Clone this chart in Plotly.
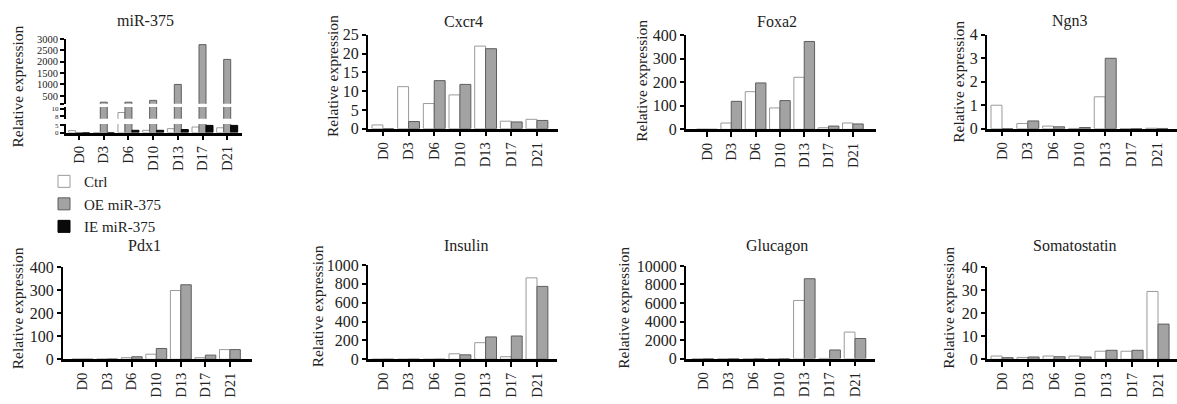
import plotly.graph_objects as go

W, H = 1177, 404
FONT = "Liberation Serif"

days = ["D0", "D3", "D6", "D10", "D13", "D17", "D21"]

# miR-375 (three groups, broken axis)
mir375_ctrl = [1.3, 0.0, 9.0, 1.5, 2.6, 3.7, 3.2]
mir375_oe = [0.0, 220, 220, 300, 1000, 2750, 2100]
mir375_ie = [0.0, 0.0, 1.5, 1.5, 2.0, 4.8, 4.8]

cxcr4_ctrl = [1.0, 11.2, 6.7, 9.0, 22.0, 2.0, 2.5]
cxcr4_oe = [0.0, 1.9, 12.8, 11.8, 21.3, 1.8, 2.2]

foxa2_ctrl = [1, 27, 160, 91, 221, 7, 27]
foxa2_oe = [0, 119, 197, 122, 373, 14, 23]

ngn3_ctrl = [1.0, 0.22, 0.11, 0.01, 1.36, 0.0, 0.02]
ngn3_oe = [0.0, 0.33, 0.08, 0.05, 3.0, 0.0, 0.01]

pdx1_ctrl = [1, 1, 7, 22, 299, 7, 42]
pdx1_oe = [0, 1, 11, 47, 324, 18, 42]

insulin_ctrl = [1, 0, 0, 58, 176, 27, 864]
insulin_oe = [0, 0, 0, 47, 237, 247, 773]

glucagon_ctrl = [1, 0, 0, 0, 6276, 20, 2862]
glucagon_oe = [0, 0, 0, 0, 8621, 931, 2172]

somatostatin_ctrl = [1.4, 0.8, 1.4, 1.4, 3.5, 3.5, 29.5]
somatostatin_oe = [0.7, 1.0, 1.1, 1.0, 3.9, 3.9, 15.3]

series_names = ["Ctrl", "OE miR-375", "IE miR-375"]

STY = {
    "Ctrl": dict(color="white", line=dict(color="#9a9a9a", width=1)),
    "OE miR-375": dict(color="#a3a3a3", line=dict(color="#5e5e5e", width=1)),
    "IE miR-375": dict(color="#0a0a0a", line=dict(color="#000000", width=1)),
}


def dx(a, b):
    return [a / W, b / W]


def dy(bottom, top):
    return [1 - bottom / H, 1 - top / H]


fig = go.Figure()
layout = {}
annotations = []

xbase = dict(type="category", categoryorder="array", categoryarray=days,
             showline=True, linecolor="black", linewidth=2.5, ticks="outside",
             ticklen=5, tickwidth=1.5, tickcolor="black", tickangle=-90,
             showgrid=False, zeroline=False, fixedrange=True,
             tickfont=dict(family=FONT, size=14.5, color="#222"))
ybase = dict(showline=True, linecolor="black", linewidth=2, ticks="outside",
             ticklen=4, tickwidth=1.5, tickcolor="black", showgrid=False,
             zeroline=False, fixedrange=True, tickformat="d",
             tickfont=dict(family=FONT, size=16, color="#222"))

# ---- panel 1: miR-375 with broken y axis ----
layout["xaxis"] = dict(xbase, domain=dx(66, 242), range=[-0.53, 6.6], anchor="y")
layout["yaxis"] = dict(ybase, domain=dy(130, 121), range=[0, 5.8], anchor="x",
                       tickvals=[0, 5], tickfont=dict(family=FONT, size=7, color="#222"))
layout["yaxis9"] = dict(ybase, domain=dy(115.7, 103.3), range=[7.4, 10.4], anchor="x",
                        tickvals=[8, 10], tickfont=dict(family=FONT, size=7, color="#222"))
layout["yaxis10"] = dict(ybase, domain=dy(100, 32.3), range=[150, 3000], anchor="x",
                         tickvals=[150, 500, 1000, 1500, 2000, 2500, 3000],
                         ticktext=["", "500", "1000", "1500", "2000", "2500", "3000"],
                         tickfont=dict(family=FONT, size=10.5, color="#222"))

mir_vals = [mir375_ctrl, mir375_oe, mir375_ie]
for ya in ["y", "y9", "y10"]:
    for name, vals in zip(series_names, mir_vals):
        fig.add_trace(go.Bar(x=days, y=vals, name=name, xaxis="x", yaxis=ya,
                             marker=STY[name], showlegend=(ya == "y")))

# ---- other panels ----
panels = [
    # idx, title, ctrl, oe, xdom(px), ydom(px bottom, top), xrange, yrange, dtick, title pos, ytitle pos
    (2, "Cxcr4", cxcr4_ctrl, cxcr4_oe, (368, 558), (126, 28), [-0.58, 6.82], [0, 25], 5, (463, 14), (332, 71)),
    (3, "Foxa2", foxa2_ctrl, foxa2_oe, (686, 876), (126.7, 28.3), [-0.86, 6.95], [0, 400], 100, (777, 14), (642, 76)),
    (4, "Ngn3", ngn3_ctrl, ngn3_oe, (987, 1177), (126, 28), [-0.58, 6.78], [0, 4], 1, (1070, 14), (959, 77)),
    (5, "Pdx1", pdx1_ctrl, pdx1_oe, (63, 252), (366.7, 270.7), [-0.8, 6.9], [0, 400], 100, (144, 248), (17.5, 314)),
    (6, "Insulin", insulin_ctrl, insulin_oe, (368, 557), (366.7, 268.3), [-0.58, 6.78], [0, 1000], 200, (466, 248), (317.5, 312)),
    (7, "Glucagon", glucagon_ctrl, glucagon_oe, (686, 875), (366, 269.3), [-0.67, 6.79], [0, 10000], 2000, (777, 248), (624, 313)),
    (8, "Somatostatin", somatostatin_ctrl, somatostatin_oe, (987, 1177), (366.7, 270.7), [-0.58, 6.73], [0, 40], 10, (1075, 248), (949, 313)),
]

for idx, title, ctrl, oe, xd, yd, xr, yr, dt, tpos, ytpos in panels:
    layout[f"xaxis{idx}"] = dict(xbase, domain=dx(*xd), range=xr, anchor=f"y{idx}")
    layout[f"yaxis{idx}"] = dict(ybase, domain=dy(*yd), range=yr, dtick=dt, tick0=0,
                                 anchor=f"x{idx}")
    for name, vals in zip(series_names[:2], [ctrl, oe]):
        fig.add_trace(go.Bar(x=days, y=vals, name=name, xaxis=f"x{idx}", yaxis=f"y{idx}",
                             marker=STY[name], showlegend=False))

# titles and y-axis titles
all_titles = [("miR-375", (145, 13), (18, 82))] + [(p[1], p[9], p[10]) for p in panels]
for title, (tx, ty), (yx, yy) in all_titles:
    annotations.append(dict(text=title, x=tx / W, y=1 - ty / H, xref="paper", yref="paper",
                            xanchor="center", yanchor="middle", showarrow=False,
                            font=dict(family=FONT, size=16, color="#222")))
    annotations.append(dict(text="Relative expression", x=yx / W, y=1 - yy / H,
                            xref="paper", yref="paper", textangle=-90,
                            xanchor="center", yanchor="middle", showarrow=False,
                            font=dict(family=FONT, size=15.5, color="#222")))

fig.update_layout(
    width=W, height=H, autosize=False,
    margin=dict(l=0, r=0, t=0, b=0, pad=0),
    paper_bgcolor="white", plot_bgcolor="white",
    barmode="group", bargap=0.15, bargroupgap=0.0,
    font=dict(family=FONT, color="#222"),
    annotations=annotations,
    legend=dict(x=44 / W, y=1 - 164 / H, xanchor="left", yanchor="top",
                font=dict(family=FONT, size=15, color="#222"),
                bgcolor="rgba(0,0,0,0)", tracegroupgap=0, itemwidth=30,
                traceorder="normal"),
    **layout,
)

fig.write_html("out.html", config={"displayModeBar": False},
               post_script="document.body.style.margin='0';")
